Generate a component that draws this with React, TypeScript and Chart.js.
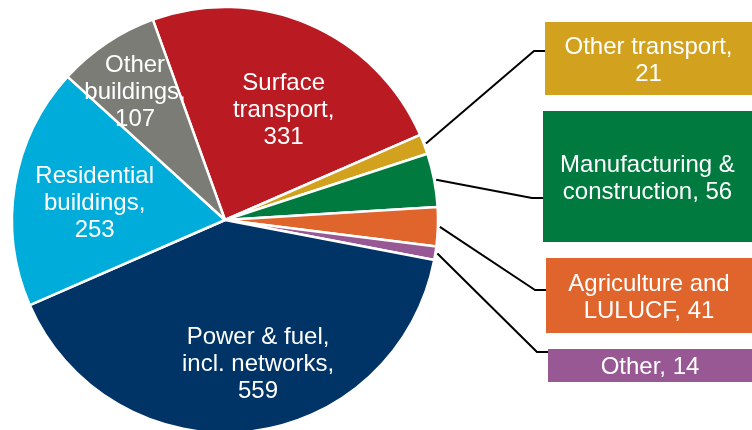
import React, { useEffect, useRef } from "react";
import { Chart, registerables } from "chart.js";

Chart.register(...registerables);

// Emissions by sector, clockwise from the top
const categories = [
  "Surface transport",
  "Other transport",
  "Manufacturing & construction",
  "Agriculture and LULUCF",
  "Other",
  "Power & fuel, incl. networks",
  "Residential buildings",
  "Other buildings",
];
const values = [331, 21, 56, 41, 14, 559, 253, 107];
const colors = ["#BA1B23", "#D2A21E", "#007A3F", "#DF652C", "#985893", "#003366", "#00ACD9", "#7C7C77"];

// Label text per slice; {v} is replaced by the slice value
const labelLines = [
  ["Surface", "transport,", "{v}"],
  ["Other transport,", "{v}"],
  ["Manufacturing &", "construction, {v}"],
  ["Agriculture and", "LULUCF, {v}"],
  ["Other, {v}"],
  ["Power & fuel,", "incl. networks,", "{v}"],
  ["Residential", "buildings,", "{v}"],
  ["Other", "buildings,", "{v}"],
];

// Labels drawn inside the slice: angle offset (deg) from slice middle and radial fraction
type Inside = { kind: "inside"; da: number; rf: number };
// Labels drawn in a box to the right, linked by a leader line
type Box = { kind: "box"; x: number; y: number; w: number; h: number; elbowY: number };
const labelPlacement: (Inside | Box)[] = [
  { kind: "inside", da: 4.5, rf: 0.59 },
  { kind: "box", x: 545, y: 22, w: 207, h: 73, elbowY: 51 },
  { kind: "box", x: 543, y: 111, w: 209, h: 131, elbowY: 198 },
  { kind: "box", x: 546, y: 258, w: 206, h: 75, elbowY: 290 },
  { kind: "box", x: 548, y: 349, w: 204, h: 33, elbowY: 352 },
  { kind: "inside", da: -6.7, rf: 0.685 },
  { kind: "inside", da: -1.3, rf: 0.618 },
  { kind: "inside", da: -1.0, rf: 0.741 },
];

const FONT_PX = 24;
const FONT = `${FONT_PX}px "Liberation Sans", Arial, sans-serif`;
const LINE_H = 27;
const CAP_HALF = FONT_PX * 0.358;

// Centre a block of lines on (cx, cy), measured at the cap height
function drawLines(ctx: CanvasRenderingContext2D, lines: string[], cx: number, cy: number) {
  const first = cy - ((lines.length - 1) * LINE_H) / 2 + CAP_HALF;
  lines.forEach((t, k) => ctx.fillText(t, cx, first + k * LINE_H));
}

const labelsPlugin = {
  id: "sectorLabels",
  afterDatasetsDraw(chart: any) {
    const ctx: CanvasRenderingContext2D = chart.ctx;
    const meta = chart.getDatasetMeta(0);
    ctx.save();
    ctx.font = FONT;
    ctx.textAlign = "center";
    ctx.textBaseline = "alphabetic";
    meta.data.forEach((arc: any, i: number) => {
      const { x, y, startAngle, endAngle, outerRadius } = arc.getProps(
        ["x", "y", "startAngle", "endAngle", "outerRadius"],
        true
      );
      const mid = (startAngle + endAngle) / 2;
      const lines = labelLines[i].map((s) => s.replace("{v}", String(values[i])));
      const p = labelPlacement[i];
      if (p.kind === "inside") {
        const a = mid + (p.da * Math.PI) / 180;
        const r = outerRadius * p.rf;
        ctx.fillStyle = "#FFFFFF";
        drawLines(ctx, lines, x + Math.cos(a) * r, y + Math.sin(a) * r);
      } else {
        // leader line from the slice edge to the box
        const r0 = outerRadius + 2;
        ctx.strokeStyle = "#000000";
        ctx.lineWidth = 2;
        ctx.lineJoin = "round";
        ctx.beginPath();
        ctx.moveTo(x + Math.cos(mid) * r0, y + Math.sin(mid) * r0);
        ctx.lineTo(p.x - 11, p.elbowY);
        ctx.lineTo(p.x, p.elbowY);
        ctx.stroke();
        ctx.fillStyle = colors[i];
        ctx.fillRect(p.x, p.y, p.w, p.h);
        ctx.fillStyle = "#FFFFFF";
        drawLines(ctx, lines, p.x + p.w / 2, p.y + p.h / 2);
      }
    });
    ctx.restore();
  },
};

export default function App() {
  const canvasRef = useRef<HTMLCanvasElement | null>(null);

  useEffect(() => {
    document.body.style.margin = "0";
    const canvas = canvasRef.current;
    if (!canvas) return;
    const chart = new Chart(canvas, {
      type: "pie",
      data: {
        labels: categories,
        datasets: [
          {
            data: values,
            backgroundColor: colors,
            borderColor: "#FFFFFF",
            borderWidth: 2.5,
            radius: 213,
          } as any,
        ],
      },
      options: {
        responsive: false,
        animation: false,
        rotation: -19.8,
        layout: { padding: { left: 0, right: 302, top: 10, bottom: 0 } },
        plugins: {
          legend: { display: false },
          tooltip: { enabled: false },
        },
      },
      plugins: [labelsPlugin],
    });
    return () => chart.destroy();
  }, []);

  return (
    <div style={{ width: 752, height: 430, background: "#FFFFFF" }}>
      <canvas ref={canvasRef} width={752} height={430} style={{ display: "block" }} />
    </div>
  );
}
